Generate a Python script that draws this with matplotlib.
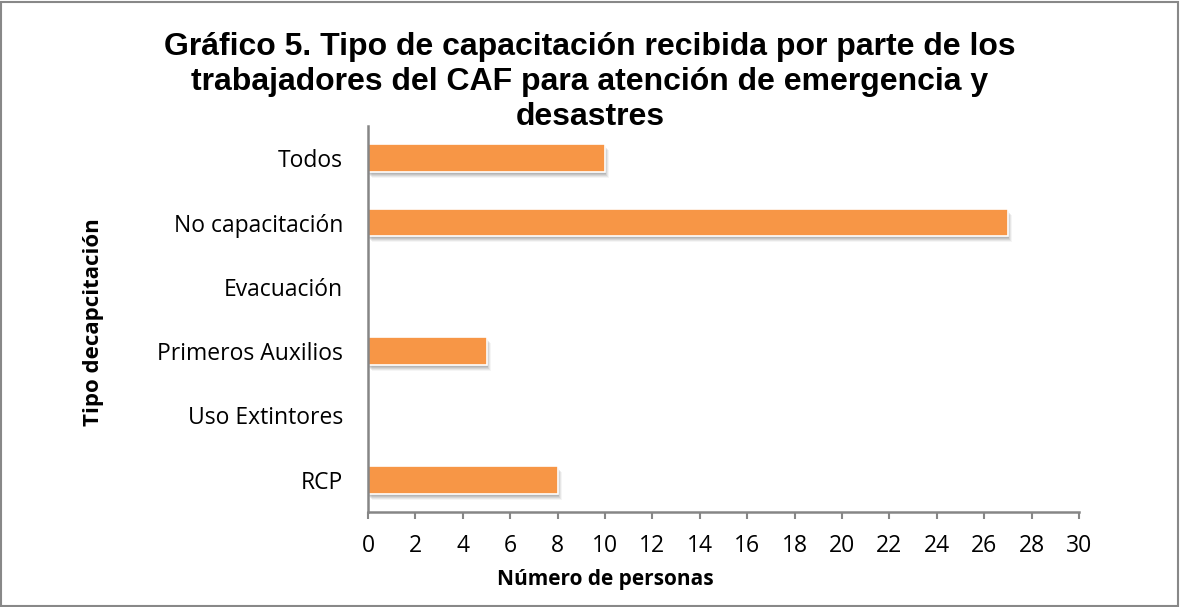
import matplotlib
matplotlib.use("Agg")
import matplotlib.pyplot as plt
import matplotlib.transforms as mtransforms
from matplotlib.patches import Rectangle

categories = ["RCP", "Uso Extintores", "Primeros Auxilios", "Evacuación", "No capacitación", "Todos"]
values = [8, 0, 5, 0, 27, 10]
xticks = list(range(0, 31, 2))

title = "Gráfico 5. Tipo de capacitación recibida por parte de los\ntrabajadores del CAF para atención de emergencia y\ndesastres"
xlabel = "Número de personas"
ylabel = "Tipo decapcitación"

bar_color = "#F79646"
axis_color = "#868686"
body_font = "Open Sans"

fig = plt.figure(figsize=(11.8, 6.07), dpi=100)
ax = fig.add_axes([368 / 1180, 1 - 512 / 607, (1079 - 368) / 1180, (512 - 126) / 607])

ypos = list(range(len(categories)))
# shadow
for dx, dy, a in [(4, -6, 0.08), (3, -5, 0.12), (2, -4, 0.16), (1, -3, 0.2), (1, -2, 0.2)]:
    tr = mtransforms.offset_copy(ax.transData, fig=fig, x=dx, y=dy, units="dots")
    ax.barh(ypos, values, height=0.43, color="#808080", alpha=a, linewidth=0, transform=tr, zorder=1)
ax.barh(ypos, values, height=0.43, color=bar_color, edgecolor="white", linewidth=1.2, zorder=2)

ax.set_xlim(0, 30)
ax.set_ylim(-0.5, len(categories) - 0.5)
ax.set_xticks(xticks)
ax.set_xticklabels([str(t) for t in xticks], fontsize=16.5, family=body_font)
ax.set_yticks(ypos)
ax.set_yticklabels(categories, fontsize=16.5, family=body_font)
ax.tick_params(axis="y", length=0, pad=18)
ax.tick_params(axis="x", length=5, width=1.5, color=axis_color, direction="out", pad=11)

for s in ["top", "right"]:
    ax.spines[s].set_visible(False)
for s in ["left", "bottom"]:
    ax.spines[s].set_color(axis_color)
    ax.spines[s].set_linewidth(1.8)

fig.text(605 / 1180, 1 - 580 / 607, xlabel, ha="center", va="center",
         fontsize=15, fontweight="bold", family=body_font)
fig.text(93 / 1180, 1 - 322 / 607, ylabel, rotation=90, ha="center", va="center",
         fontsize=16, fontweight="bold", family=body_font)

fig.text(590 / 1180, 1 - 32 / 607, title, ha="center", va="top", fontsize=23, fontweight="bold",
         family="Liberation Sans", linespacing=1.22)

fig.patches.append(Rectangle((1 / 1180, 1 / 607), 1 - 3 / 1180, 1 - 3 / 607, transform=fig.transFigure,
                             fill=False, edgecolor="#888888", linewidth=1.5))

fig.savefig("out.png", dpi=100)
